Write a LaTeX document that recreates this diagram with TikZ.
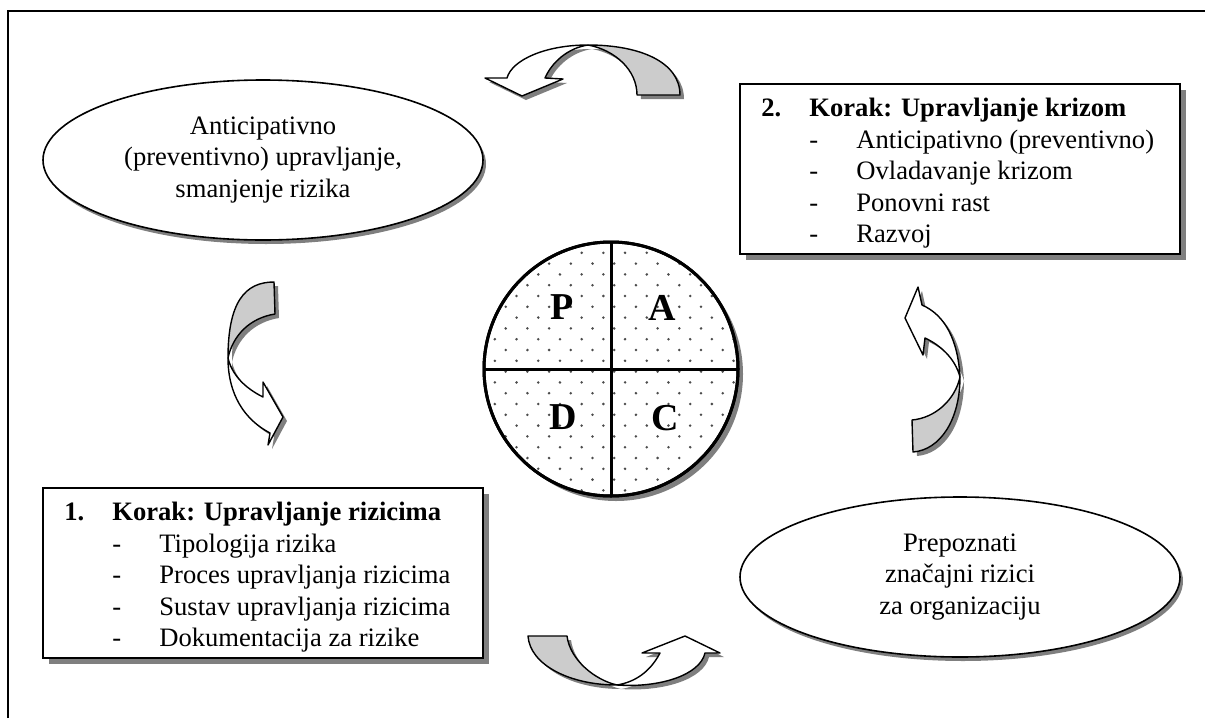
\documentclass[tikz,border=0pt]{standalone}
\usepackage{fontspec}
\setmainfont{Liberation Serif}
\usetikzlibrary{shapes.geometric,shadows,positioning,calc}
\definecolor{pdcaTail}{HTML}{CCCCCC}
\definecolor{pdcaShade}{HTML}{7F7F7F}

% curved block arrows (tail = grey underside, head = white front)
\newcommand{\arrTopTail}{(680,95) .. controls (680,62) and (640,45) .. (588,45) .. controls (615,50) and (637,70) .. (637,95) -- cycle}
\newcommand{\arrTopHead}{(588,45) .. controls (545,45) and (512,60) .. (507,78) -- (485,78) -- (522,96) -- (563,79) -- (545,78) .. controls (552,62) and (568,48) .. (588,45) -- cycle}
\newcommand{\arrLeftTail}{(274,282) .. controls (245,282) and (228,302) .. (228,358) .. controls (233,335) and (250,318) .. (275,314) -- cycle}
\newcommand{\arrLeftHead}{(228,358) .. controls (228,395) and (245,420) .. (270,433) -- (268,445) -- (283,417) -- (263,382) -- (263,397) .. controls (245,388) and (232,375) .. (228,358) -- cycle}
\newcommand{\arrRightTail}{(960,377) .. controls (960,420) and (940,450) .. (913,452) -- (912,420) .. controls (935,418) and (955,400) .. (960,377) -- cycle}
\newcommand{\arrRightHead}{(960,377) .. controls (958,340) and (945,315) .. (922,305) -- (918,287) -- (905,318) -- (923,355) -- (925,338) .. controls (940,345) and (955,358) .. (960,377) -- cycle}
\newcommand{\arrBotTail}{(528,636) .. controls (530,665) and (570,685) .. (617,685) .. controls (595,680) and (570,660) .. (567,636) -- cycle}
\newcommand{\arrBotHead}{(617,685) .. controls (660,688) and (700,675) .. (705,653) -- (720,653) -- (685,636) -- (642,653) -- (660,653) .. controls (650,672) and (635,682) .. (617,685) -- cycle}

\begin{document}
\begin{tikzpicture}[
    x=0.5pt, y=-0.5pt,
    txt/.style={font=\fontsize{13.3}{15.7}\selectfont},
    frame/.style={draw, line width=1pt},
    stepbox/.style={draw, line width=1pt, fill=white, minimum width=220pt, minimum height=85pt, inner sep=0pt,
        drop shadow={shadow xshift=3pt, shadow yshift=-3pt, fill=pdcaShade, opacity=1}},
    steplist/.style={txt, inner sep=0pt, anchor=north west},
    oval/.style={ellipse, draw, line width=0.8pt, fill=white, minimum width=220pt, minimum height=80pt, align=center, txt,
        drop shadow={shadow xshift=1.5pt, shadow yshift=-2pt, fill=pdcaShade, opacity=1}},
    pdca/.style={circle, draw, line width=1.5pt, fill=white, minimum size=127pt, inner sep=0pt, outer sep=0pt,
        drop shadow={shadow xshift=2.5pt, shadow yshift=-2.5pt, fill=pdcaShade, opacity=1}},
    quad/.style={line width=1.5pt},
    letter/.style={font=\fontsize{19}{22}\selectfont\bfseries},
    dotfill/.style={fill=black!70},
    bandback/.style={fill=pdcaTail, draw, line width=0.7pt, line join=round},
    bandfront/.style={fill=white, draw, line width=0.7pt, line join=round},
    bandshadow/.style={fill=pdcaShade}
]
\useasboundingbox (0,0) rectangle (1205,718);

% ===== OUTER FRAME =====
\draw[frame] (8,718) -- (8,11) -- (1205,11);

% ===== OVALS =====
\node[oval] (antic) at (263,160) {Anticipativno\\(preventivno) upravljanje,\\smanjenje rizika};
\node[oval] (prep) at (960,577) {Prepoznati\\značajni rizici\\za organizaciju};

% ===== STEP 2 =====
\node[stepbox] (box2) at (960,168.5) {};
\node[steplist] (list2) at ($(box2.north west)+(22,12)$) {%
\begin{tabular}{@{}p{24pt}@{}p{23.5pt}@{}l@{}}
\textbf{2.} & \multicolumn{2}{@{}l@{}}{\textbf{Korak: Upravljanje krizom}}\\
 & - & Anticipativno (preventivno)\\
 & - & Ovladavanje krizom\\
 & - & Ponovni rast\\
 & - & Razvoj
\end{tabular}};

% ===== STEP 1 =====
\node[stepbox] (box1) at (263,572.5) {};
\node[steplist] (list1) at ($(box1.north west)+(22,12)$) {%
\begin{tabular}{@{}p{24pt}@{}p{23.5pt}@{}l@{}}
\textbf{1.} & \multicolumn{2}{@{}l@{}}{\textbf{Korak: Upravljanje rizicima}}\\
 & - & Tipologija rizika\\
 & - & Proces upravljanja rizicima\\
 & - & Sustav upravljanja rizicima\\
 & - & Dokumentacija za rizike
\end{tabular}};

% ===== PDCA CIRCLE =====
\node[pdca] (pdca) at (611,369) {};
\begin{scope}
  \clip (pdca.center) circle[radius=126];
  \foreach \r in {0,...,24}{
    \foreach \c in {0,...,12}{
      \pgfmathsetmacro\dx{484+\c*21.7+mod(\r,2)*10.85}
      \pgfmathsetmacro\dy{242+\r*10.8}
      \fill[dotfill] (\dx,\dy) circle[radius=0.7pt];
    }
  }
\end{scope}
\draw[quad] (pdca.center) circle[radius=127];
\draw[quad] (pdca.north) -- (pdca.south);
\draw[quad] (pdca.west) -- (pdca.east);
\node[letter] (lp) at (562,307) {P};
\node[letter] (la) at (662,308) {A};
\node[letter] (ld) at (563,417) {D};
\node[letter] (lc) at (665,418) {C};

% ===== CURVED ARROWS =====
\begin{scope}[shift={(4,4)}]
  \fill[bandshadow] \arrTopTail; \fill[bandshadow] \arrTopHead;
  \fill[bandshadow] \arrLeftTail; \fill[bandshadow] \arrLeftHead;
  \fill[bandshadow] \arrRightTail; \fill[bandshadow] \arrRightHead;
  \fill[bandshadow] \arrBotTail; \fill[bandshadow] \arrBotHead;
\end{scope}
\path[bandback] \arrTopTail;   \path[bandfront] \arrTopHead;
\path[bandback] \arrLeftTail;  \path[bandfront] \arrLeftHead;
\path[bandback] \arrRightTail; \path[bandfront] \arrRightHead;
\path[bandback] \arrBotTail;   \path[bandfront] \arrBotHead;

\end{tikzpicture}
\end{document}
